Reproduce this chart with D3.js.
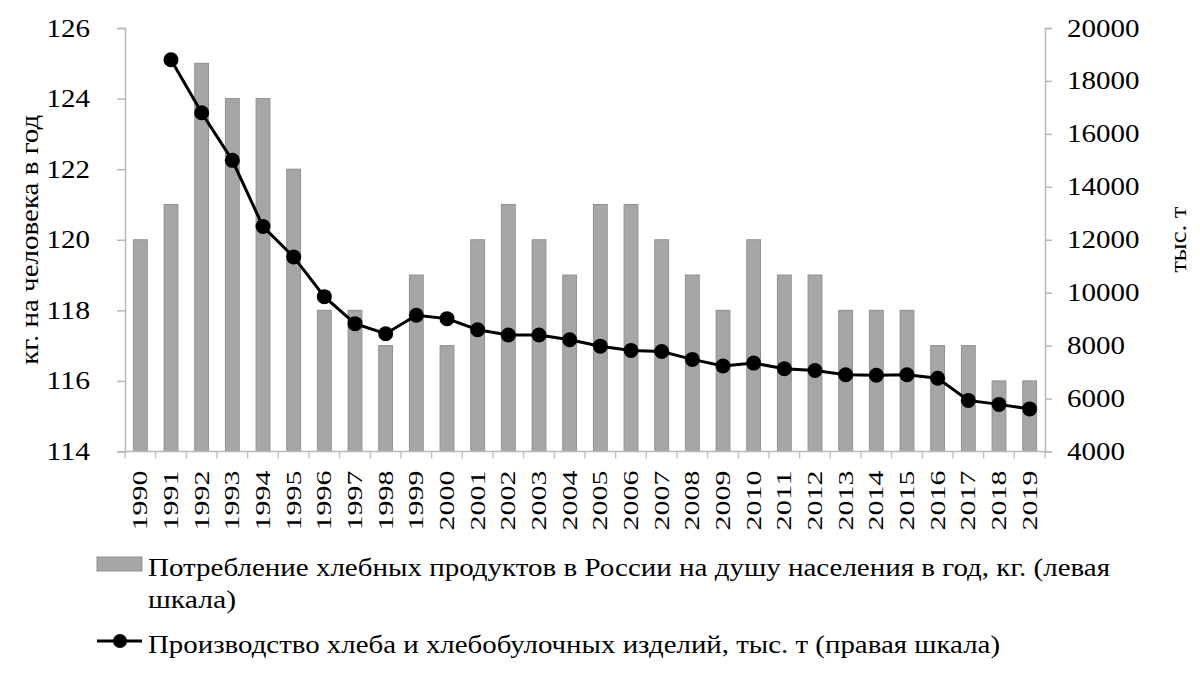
<!DOCTYPE html>
<html>
<head>
<meta charset="utf-8">
<script src="https://cdn.jsdelivr.net/npm/d3@7"></script>
<style>
  body { margin: 0; background: #fff; }
  svg text { font-family: "Liberation Serif"; fill: #000; }
</style>
</head>
<body>
<div id="chart"></div>
<script>
const years = ["1990","1991","1992","1993","1994","1995","1996","1997","1998","1999",
  "2000","2001","2002","2003","2004","2005","2006","2007","2008","2009",
  "2010","2011","2012","2013","2014","2015","2016","2017","2018","2019"];
// kg per person per year (left axis)
const consumption = [120,121,125,124,124,122,118,118,117,119,
  117,120,121,120,119,121,121,120,119,118,
  120,119,119,118,118,118,117,117,116,116];
// thousand tonnes (right axis), no value for 1990
const production = [null,18800,16800,15000,12500,11350,9850,8830,8450,9150,
  9020,8600,8400,8400,8220,7980,7820,7780,7480,7230,
  7340,7130,7060,6900,6880,6900,6770,5930,5780,5610];
const leftTicks = [114,116,118,120,122,124,126];
const rightTicks = [4000,6000,8000,10000,12000,14000,16000,18000,20000];

(function () {
  const width = 1200, height = 677;
  const margin = {top: 28, right: 155, bottom: 226, left: 125};
  const serif = "'Liberation Serif', serif";
  const svg = d3.select("#chart").append("svg")
    .attr("width", width)
    .attr("height", height);

  const x = d3.scaleBand().domain(years).range([margin.left, width - margin.right]).paddingInner(0.55).paddingOuter(0.275);
  const xb = d3.scaleBand().domain(years).range([margin.left, width - margin.right]);
  const yL = d3.scaleLinear().domain([114, 126]).range([height - margin.bottom + 0.5, margin.top]);
  const yR = d3.scaleLinear().domain([4000, 20000]).range([height - margin.bottom + 0.5, margin.top]);
  const axisColor = "#b8b8b8";

  // bars
  svg.selectAll(".bar")
    .data(years)
    .enter()
    .append("rect")
    .attr("x", (d, i) => x(d))
    .attr("width", x.bandwidth())
    .attr("y", (d, i) => yL(consumption[i]))
    .attr("height", (d, i) => yL(114) - yL(consumption[i]))
    .attr("fill", "#a6a6a6")
    .attr("stroke", "#8f8f8f")
    .attr("stroke-width", 1);

  // left axis
  const gL = svg.append("g")
    .attr("transform", `translate(${margin.left},0)`)
    .call(d3.axisLeft(yL).tickValues(leftTicks).tickSize(8).tickPadding(27).tickFormat(d3.format("d")));
  // right axis
  const gR = svg.append("g")
    .attr("transform", `translate(${width - margin.right},0)`)
    .call(d3.axisRight(yR).tickValues(rightTicks).tickSize(7).tickPadding(15).tickFormat(d3.format("d")));
  [gL, gR].forEach(g => {
    g.attr("font-family", serif);
    g.select(".domain").attr("stroke", axisColor).attr("stroke-width", 1.5);
    g.selectAll(".tick line").attr("stroke", axisColor).attr("stroke-width", 1.5);
    g.selectAll(".tick text")
      .style("font-family", serif)
      .style("font-size", "25px")
      .attr("fill", "#000")
      .attr("textLength", d => String(d).length * 14.5)
      .attr("lengthAdjust", "spacingAndGlyphs");
  });

  // x axis: ticks between categories
  const gX = svg.append("g").attr("transform", `translate(0,${yL(114)})`);
  gX.append("line")
    .attr("x1", margin.left).attr("x2", width - margin.right)
    .attr("stroke", axisColor).attr("stroke-width", 1.5);
  gX.selectAll(".xt")
    .data(years.concat(["end"]))
    .enter()
    .append("line")
    .attr("x1", (d, i) => i < years.length ? xb(d) : xb.range()[1])
    .attr("x2", (d, i) => i < years.length ? xb(d) : xb.range()[1])
    .attr("y1", 0).attr("y2", 7)
    .attr("stroke", axisColor).attr("stroke-width", 1.2);
  gX.selectAll(".xl")
    .data(years)
    .enter()
    .append("text")
    .attr("transform", d => `translate(${xb(d) + xb.bandwidth() / 2 + 7},19) rotate(-90)`)
    .attr("text-anchor", "end")
    .attr("textLength", 60)
    .attr("lengthAdjust", "spacingAndGlyphs")
    .style("font-family", serif)
    .style("font-size", "22px")
    .text(d => d);

  // line series
  const pts = years.map((d, i) => ({year: d, v: production[i]})).filter(d => d.v != null);
  const line = d3.line()
    .x(d => xb(d.year) + xb.bandwidth() / 2)
    .y(d => yR(d.v));
  svg.append("path")
    .datum(pts)
    .attr("fill", "none")
    .attr("stroke", "#000")
    .attr("stroke-width", 3)
    .attr("d", line);
  svg.selectAll(".dot")
    .data(pts)
    .enter()
    .append("circle")
    .attr("cx", d => xb(d.year) + xb.bandwidth() / 2)
    .attr("cy", d => yR(d.v))
    .attr("r", 7.5)
    .attr("fill", "#000");

  // axis titles
  svg.append("text")
    .attr("transform", `translate(38,${(yL(114) + yL(126)) / 2}) rotate(-90)`)
    .attr("text-anchor", "middle")
    .attr("textLength", 250)
    .attr("lengthAdjust", "spacingAndGlyphs")
    .style("font-family", serif)
    .style("font-size", "25px")
    .text("кг. на человека в год");
  svg.append("text")
    .attr("transform", `translate(1186,${(yL(114) + yL(126)) / 2}) rotate(-90)`)
    .attr("text-anchor", "middle")
    .attr("textLength", 66)
    .attr("lengthAdjust", "spacingAndGlyphs")
    .style("font-family", serif)
    .style("font-size", "23px")
    .text("тыс. т");

  // legend
  const lg = svg.append("g").style("font-family", serif);
  lg.append("rect")
    .attr("x", 97).attr("y", 557).attr("width", 45).attr("height", 14)
    .attr("fill", "#a6a6a6").attr("stroke", "#8f8f8f");
  lg.append("text")
    .attr("x", 148).attr("y", 576)
    .attr("textLength", 962).attr("lengthAdjust", "spacingAndGlyphs")
    .style("font-family", serif)
    .style("font-size", "26px")
    .text("Потребление хлебных продуктов в России на душу населения в год, кг. (левая");
  lg.append("text")
    .attr("x", 148).attr("y", 608)
    .attr("textLength", 88).attr("lengthAdjust", "spacingAndGlyphs")
    .style("font-family", serif)
    .style("font-size", "26px")
    .text("шкала)");
  lg.append("line")
    .attr("x1", 97).attr("x2", 142).attr("y1", 641).attr("y2", 641)
    .attr("stroke", "#000").attr("stroke-width", 3);
  lg.append("circle")
    .attr("cx", 120).attr("cy", 641).attr("r", 7).attr("fill", "#000");
  lg.append("text")
    .attr("x", 148).attr("y", 653)
    .attr("textLength", 852).attr("lengthAdjust", "spacingAndGlyphs")
    .style("font-family", serif)
    .style("font-size", "26px")
    .text("Производство хлеба и хлебобулочных изделий, тыс. т (правая шкала)");
})();
</script>
</body>
</html>
